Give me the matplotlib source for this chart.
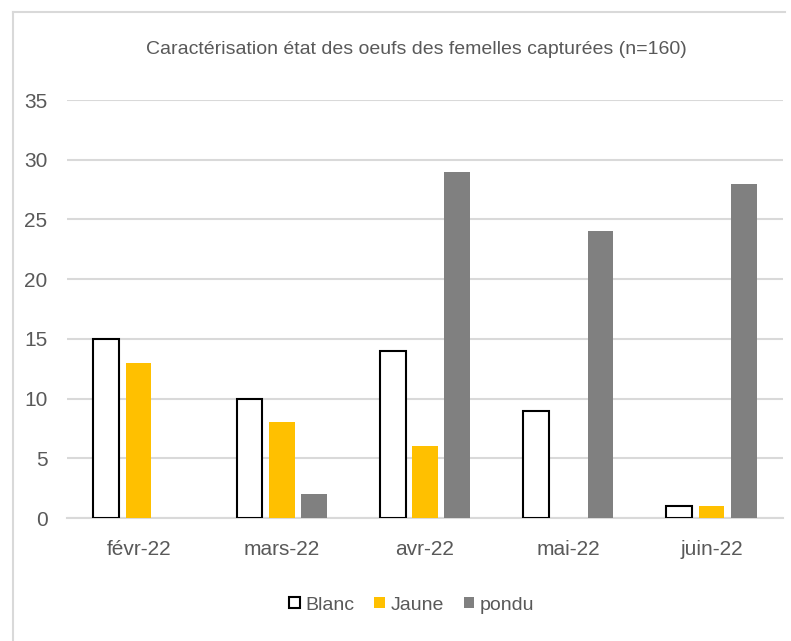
import numpy as np
import matplotlib
matplotlib.use('Agg')
import matplotlib.pyplot as plt
from matplotlib.lines import Line2D

months = ['févr-22', 'mars-22', 'avr-22', 'mai-22', 'juin-22']
blanc = [15, 10, 14, 9, 1]
jaune = [13, 8, 6, 0, 1]
pondu = [0, 2, 29, 24, 28]

plt.rcParams['font.family'] = ['Liberation Sans Narrow', 'Liberation Sans', 'DejaVu Sans']
text_col = '#595959'
grid_col = '#D9D9D9'

fig = plt.figure(figsize=(7.91, 6.41), dpi=100)
ax = fig.add_axes([67 / 791, 1 - 518 / 641, (783 - 67) / 791, (518 - 100) / 641])

x = np.arange(len(months))
w = 0.18
off = 0.225
ax.bar(x - off, blanc, w, facecolor='white', edgecolor='black', linewidth=1.5, label='Blanc', zorder=3)
ax.bar(x, jaune, w, color='#FFC000', label='Jaune', zorder=3)
ax.bar(x + off, pondu, w, color='#808080', label='pondu', zorder=3)

ax.set_xlim(-0.5, 4.5)
ax.set_ylim(0, 35)
ax.set_yticks(range(0, 36, 5))
ax.set_xticks(x)
ax.set_xticklabels(months)
ax.grid(axis='y', color=grid_col, linewidth=1.5, zorder=0)
for s in ['top', 'right', 'left']:
    ax.spines[s].set_visible(False)
ax.spines['bottom'].set_color(grid_col)
ax.spines['bottom'].set_linewidth(1.5)
ax.tick_params(axis='both', length=0, labelsize=15, labelcolor=text_col)
ax.tick_params(axis='y', pad=14)
ax.tick_params(axis='x', pad=16)

fig.text(416 / 791, 1 - 50 / 641, 'Caractérisation état des oeufs des femelles capturées (n=160)',
         ha='center', va='center', fontsize=14, color=text_col)

ax.legend(loc='center', bbox_to_anchor=(412 / 791, 1 - 605 / 641), bbox_transform=fig.transFigure,
          ncol=3, frameon=False, fontsize=14, labelcolor=text_col, handlelength=0.55,
          handleheight=0.55, handletextpad=0.3, columnspacing=1.0)

# chart border
fig.add_artist(Line2D([13 / 791, 13 / 791], [0, 1 - 12 / 641], color=grid_col, linewidth=1.5))
fig.add_artist(Line2D([13 / 791, 785 / 791], [1 - 12 / 641, 1 - 12 / 641], color=grid_col, linewidth=1.5))

fig.savefig('out.png', dpi=100)
